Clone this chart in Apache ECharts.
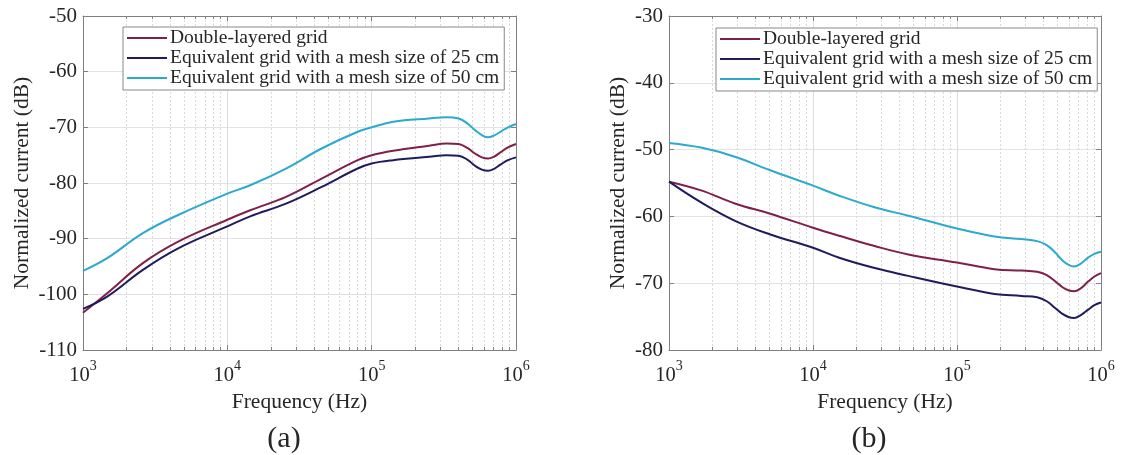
<!DOCTYPE html>
<html>
<head>
<meta charset="utf-8">
<script src="https://cdn.jsdelivr.net/npm/echarts@6/dist/echarts.min.js"></script>
<style>
html,body{margin:0;padding:0;background:#fff;}
#c{width:1121px;height:455px;}
</style>
</head>
<body>
<div id="c"></div>
<script>
// ---------- data ----------
const seriesNames = ['Double-layered grid', 'Equivalent grid with a mesh size of 25 cm', 'Equivalent grid with a mesh size of 50 cm'];
const colors = ['#7F1F4A', '#1F1B5E', '#2BAACD'];

// (a)
const freqA = [1000, 1470, 2600, 4600, 10000, 14400, 25500, 45000, 80000, 100000, 141000, 250000, 330000, 400000, 460000, 520000, 580000, 640000, 700000, 780000, 880000, 1000000];
const doubleA = [-103.3, -99.8, -94.4, -90.5, -86.6, -84.9, -82.5, -79.2, -75.9, -75.0, -74.2, -73.3, -72.9, -73.0, -73.7, -74.7, -75.4, -75.6, -75.3, -74.5, -73.6, -73.0];
const mesh25A = [-102.6, -100.4, -95.6, -91.7, -87.8, -86.0, -83.7, -80.7, -77.4, -76.5, -75.9, -75.3, -75.0, -75.1, -75.8, -76.9, -77.6, -77.8, -77.5, -76.7, -75.9, -75.4];
const mesh50A = [-95.8, -93.5, -89.0, -85.7, -81.9, -80.4, -77.4, -73.8, -70.8, -70.0, -69.0, -68.4, -68.2, -68.4, -69.3, -70.5, -71.4, -71.8, -71.5, -70.8, -70.0, -69.4];

// (b)
const freqB = [1000, 1670, 2900, 5050, 10000, 15200, 26400, 45900, 100000, 182000, 280000, 360000, 420000, 480000, 540000, 600000, 650000, 720000, 810000, 900000, 1000000];
const doubleB = [-54.8, -56.1, -58.1, -59.6, -61.7, -62.9, -64.4, -65.7, -66.9, -67.9, -68.1, -68.3, -68.8, -69.7, -70.6, -71.1, -71.2, -70.8, -69.8, -69.0, -68.5];
const mesh25B = [-54.8, -57.9, -60.7, -62.7, -64.7, -66.2, -67.7, -68.9, -70.5, -71.6, -71.9, -72.1, -72.7, -73.7, -74.6, -75.1, -75.2, -74.8, -74.0, -73.3, -72.9];
const mesh50B = [-49.0, -49.7, -51.1, -53.1, -55.4, -56.9, -58.6, -59.9, -61.8, -63.0, -63.4, -63.7, -64.3, -65.4, -66.6, -67.3, -67.5, -67.1, -66.2, -65.6, -65.3];

const xRange = [1000, 1000000];
const yRangeA = [-110, -50];
const yRangeB = [-80, -30];
const yStep = 10;
const panelLabels = ['(a)', '(b)'];
const xTitle = 'Frequency (Hz)';
const yTitle = 'Normalized current (dB)';

// ---------- chart ----------
const FONT = '"Liberation Serif", "DejaVu Serif", serif';
const TXT = '#262626';
const AXC = '#808080';

function pairs(xs, ys) { return xs.map((x, i) => [x, ys[i]]); }

function xAxisBottom(gi) {
  return {
    type: 'log', logBase: 10, gridIndex: gi, min: xRange[0], max: xRange[1], position: 'bottom',
    axisLine: { show: true, lineStyle: { color: AXC, width: 1 } },
    axisTick: { show: true, inside: true, length: 5, lineStyle: { color: AXC } },
    minorTick: { show: true, splitNumber: 9, length: 3, lineStyle: { color: AXC } },
    splitLine: { show: true, lineStyle: { color: '#dedede', width: 1 } },
    minorSplitLine: { show: true, lineStyle: { color: '#d9d9d9', width: 1, type: [2, 2] } },
    axisLabel: {
      margin: 9,
      formatter: v => '{b|10}{s|' + Math.round(Math.log10(v)) + '}',
      rich: {
        b: { fontFamily: FONT, fontSize: 20.5, color: TXT, lineHeight: 27, verticalAlign: 'bottom' },
        s: { fontFamily: FONT, fontSize: 14, color: TXT, lineHeight: 15, verticalAlign: 'top' }
      }
    },
    name: xTitle, nameLocation: 'middle', nameGap: 37,
    nameTextStyle: { fontFamily: FONT, fontSize: 21.5, color: TXT }
  };
}
function xAxisTop(gi) {
  return {
    type: 'log', logBase: 10, gridIndex: gi, min: xRange[0], max: xRange[1], position: 'top',
    axisLine: { show: true, onZero: false, lineStyle: { color: AXC, width: 1 } },
    axisTick: { show: true, inside: true, length: 5, lineStyle: { color: AXC } },
    minorTick: { show: true, splitNumber: 9, length: 3, lineStyle: { color: AXC } },
    splitLine: { show: false }, axisLabel: { show: false }
  };
}
function yAxisLeft(gi, r, gap) {
  return {
    type: 'value', gridIndex: gi, min: r[0], max: r[1], interval: yStep, position: 'left',
    axisLine: { show: true, onZero: false, lineStyle: { color: AXC, width: 1 } },
    axisTick: { show: true, inside: true, length: 5, lineStyle: { color: AXC } },
    splitLine: { show: true, lineStyle: { color: '#e3e3e3', width: 1 } },
    axisLabel: { fontFamily: FONT, fontSize: 21, color: TXT, margin: 6 },
    name: yTitle, nameLocation: 'middle', nameGap: gap, nameRotate: 90,
    nameTextStyle: { fontFamily: FONT, fontSize: 21.5, color: TXT }
  };
}
function yAxisRight(gi, r) {
  return {
    type: 'value', gridIndex: gi, min: r[0], max: r[1], interval: yStep, position: 'right',
    axisLine: { show: true, onZero: false, lineStyle: { color: AXC, width: 1 } },
    axisTick: { show: true, inside: true, length: 5, lineStyle: { color: AXC } },
    splitLine: { show: false }, axisLabel: { show: false }
  };
}
function lineSeries(name, xi, yi, data, color) {
  return {
    type: 'line', name: name, xAxisIndex: xi, yAxisIndex: yi, data: data,
    showSymbol: false, symbol: 'none', smooth: 0.4,
    lineStyle: { color: color, width: 2 }, itemStyle: { color: color }, z: 3
  };
}
function legend(left, top) {
  return {
    orient: 'vertical', left: left, top: top, data: seriesNames,
    icon: 'rect', itemWidth: 40, itemHeight: 2, itemGap: 0,
    backgroundColor: '#fff', borderColor: '#888', borderWidth: 1, borderRadius: 0,
    padding: [1, 5, 2, 4],
    textStyle: { fontFamily: FONT, fontSize: 19.5, color: TXT, lineHeight: 20, padding: [0, 0, 0, -2] },
    selectedMode: false
  };
}

const chart = echarts.init(document.getElementById('c'), null, { renderer: 'canvas' });
chart.setOption({
  animation: false,
  backgroundColor: '#fff',
  grid: [
    { left: 83, top: 16, width: 433, height: 334 },
    { left: 669, top: 16, width: 432, height: 334 }
  ],
  xAxis: [xAxisBottom(0), xAxisTop(0), xAxisBottom(1), xAxisTop(1)],
  yAxis: [yAxisLeft(0, yRangeA, 50), yAxisRight(0, yRangeA), yAxisLeft(1, yRangeB, 40), yAxisRight(1, yRangeB)],
  legend: [legend(123, 27), legend(716, 28)],
  series: [
    lineSeries(seriesNames[0], 0, 0, pairs(freqA, doubleA), colors[0]),
    lineSeries(seriesNames[1], 0, 0, pairs(freqA, mesh25A), colors[1]),
    lineSeries(seriesNames[2], 0, 0, pairs(freqA, mesh50A), colors[2]),
    lineSeries(seriesNames[0], 2, 2, pairs(freqB, doubleB), colors[0]),
    lineSeries(seriesNames[1], 2, 2, pairs(freqB, mesh25B), colors[1]),
    lineSeries(seriesNames[2], 2, 2, pairs(freqB, mesh50B), colors[2])
  ],
  graphic: [
    { type: 'text', x: 284, y: 439, style: { text: panelLabels[0], font: '30px ' + FONT, fill: TXT, align: 'center', verticalAlign: 'middle' } },
    { type: 'text', x: 869, y: 439, style: { text: panelLabels[1], font: '30px ' + FONT, fill: TXT, align: 'center', verticalAlign: 'middle' } }
  ]
});
</script>
</body>
</html>
